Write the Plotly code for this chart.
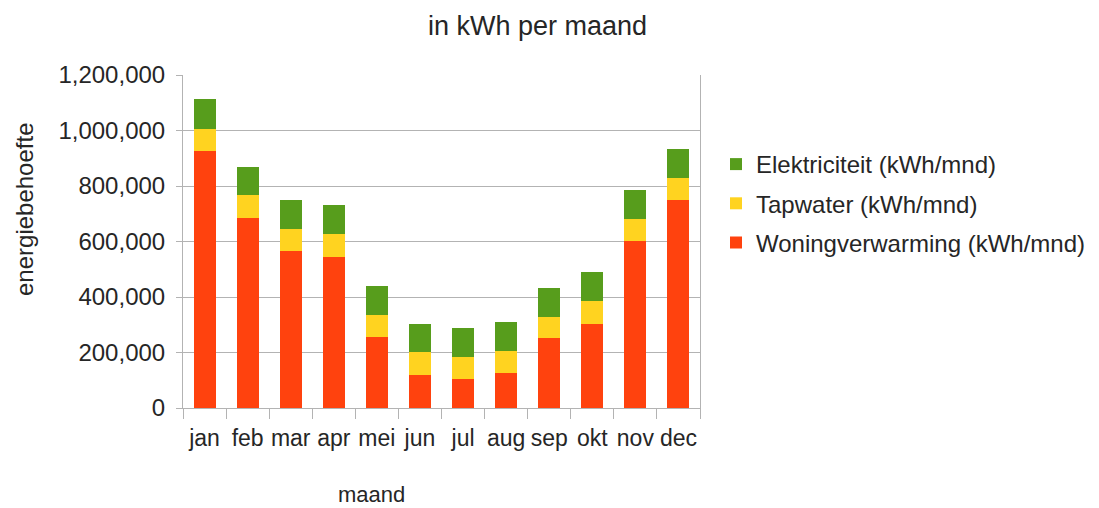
import plotly.graph_objects as go

maanden = ["jan", "feb", "mar", "apr", "mei", "jun", "jul", "aug", "sep", "okt", "nov", "dec"]
woningverwarming = [926000, 686000, 565000, 545000, 256000, 120000, 105000, 126000, 251000, 304000, 601000, 749000]
tapwater = [81000, 80000, 81000, 81000, 78000, 81000, 79000, 78000, 77000, 81000, 81000, 81000]
elektriciteit = [106000, 104000, 103000, 105000, 105000, 103000, 103000, 105000, 105000, 105000, 104000, 105000]

FONT = "Liberation Sans, Arial, sans-serif"
TXT = "#262626"
GRID = "#b3b3b3"

fig = go.Figure()
fig.add_trace(go.Bar(x=maanden, y=woningverwarming, name="Woningverwarming (kWh/mnd)",
                     marker=dict(color="#ff420e", line=dict(width=0)), legendgroup="w", legendrank=3))
fig.add_trace(go.Bar(x=maanden, y=tapwater, name="Tapwater (kWh/mnd)",
                     marker=dict(color="#ffd320", line=dict(width=0)), legendgroup="t", legendrank=2))
fig.add_trace(go.Bar(x=maanden, y=elektriciteit, name="Elektriciteit (kWh/mnd)",
                     marker=dict(color="#579d1c", line=dict(width=0)), legendgroup="e", legendrank=1))

OFF = 8  # page body offset
L, R, T, B = 183 - OFF, 700 - OFF, 75 - OFF, 408 - OFF
W, H = 1099, 508
pw, ph = R - L, B - T

def px(x):
    return (x - OFF - L) / pw

def py(y):
    return (B - (y - OFF)) / ph

fig.update_layout(
    width=W, height=H,
    margin=dict(l=L, r=W - R, t=T, b=H - B, autoexpand=False),
    paper_bgcolor="white", plot_bgcolor="white",
    barmode="stack", bargap=0.49,
    font=dict(family=FONT, size=24, color=TXT),
    showlegend=True,
    legend=dict(x=px(716), xanchor="left", y=py(142), yanchor="top",
                traceorder="grouped", tracegroupgap=5,
                font=dict(size=24, color=TXT), bgcolor="rgba(0,0,0,0)"),
    xaxis=dict(showline=True, linecolor=GRID, linewidth=1, ticks="outside", tickson="boundaries",
               ticklen=10, tickcolor=GRID, showgrid=False, tickangle=0, ticklabelstandoff=9,
               tickfont=dict(size=23, color=TXT)),
    yaxis=dict(range=[0, 1200000], dtick=200000, tickformat=",d", showgrid=True, gridcolor=GRID,
               showline=True, mirror=True, linecolor=GRID, ticks="outside", ticklen=6, tickcolor=GRID,
               ticklabelstandoff=6, zeroline=False, tickfont=dict(size=24, color=TXT)),
    annotations=[
        dict(text="in kWh per maand", x=px(537), y=py(9), xref="paper", yref="paper",
             showarrow=False, font=dict(size=27, color=TXT), xanchor="center", yanchor="top"),
        dict(text="maand", x=px(371), y=py(494), xref="paper", yref="paper",
             showarrow=False, font=dict(size=22, color=TXT), xanchor="center", yanchor="middle"),
        dict(text="energiebehoefte", x=px(24), y=py(210), xref="paper", yref="paper", textangle=-90,
             showarrow=False, font=dict(size=24, color=TXT), xanchor="center", yanchor="middle"),
    ],
)

fig.write_html("out.html")
